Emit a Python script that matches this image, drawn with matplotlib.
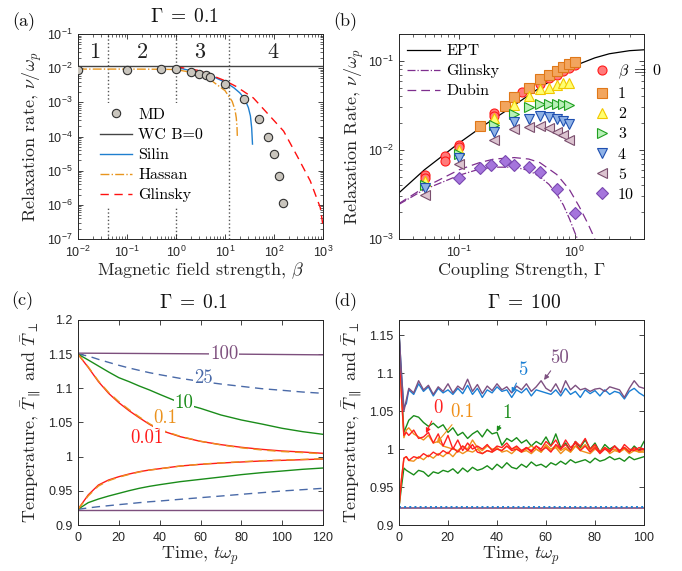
import numpy as np
import matplotlib
matplotlib.use('Agg')
import matplotlib.pyplot as plt
from matplotlib.ticker import LogLocator, NullFormatter

plt.rcParams['font.family'] = ['Liberation Sans', 'DejaVu Sans']
plt.rcParams['mathtext.fontset'] = 'cm'
plt.rcParams['axes.formatter.use_mathtext'] = True

SERIF = 'cmr10'
GRAY = '#262626'

# ---------------- (a) relaxation rate vs beta, Gamma = 0.1
md_beta = [0.01, 0.1, 0.5, 1, 2, 3, 4, 5, 10, 25, 50, 75, 100, 125, 150]
md_nu = [8.9e-3, 8.6e-3, 9.2e-3, 9.2e-3, 7.8e-3, 6.6e-3, 6.3e-3, 5.7e-3,
         3.5e-3, 1.23e-3, 3.2e-4, 1.0e-4, 3.1e-5, 6.8e-6, 1.17e-6]
wc_beta = [1e-2, 1e3]
wc_nu = [1.12e-2, 1.12e-2]
silin_beta = [1, 2, 5, 10, 15, 20, 25, 30, 33, 35, 36.4]
silin_nu = [1.05e-2, 8.5e-3, 6.2e-3, 3.9e-3, 2.7e-3, 1.9e-3, 1.3e-3, 7e-4, 4e-4, 1.8e-4, 6e-5]
hassan_beta = [0.01, 0.1, 0.5, 1, 2, 5, 10, 14, 16, 17, 17.6, 17.9]
hassan_nu = [9.4e-3, 9.4e-3, 9.3e-3, 9.1e-3, 7.6e-3, 4.6e-3, 2.2e-3, 1.07e-3, 6e-4, 3.5e-4, 1.8e-4, 9e-5]
glinsky_beta = [1, 3, 10, 17, 38, 157, 296, 550, 880, 1000]
glinsky_nu = [1.1e-2, 8.5e-3, 4.3e-3, 2.9e-3, 1.34e-3, 1.44e-4, 2.7e-5, 5e-6, 8.3e-7, 2.4e-7]
region_bounds = [0.04, 1, 12]
region_names = ['1', '2', '3', '4']
region_beta = [0.022, 0.21, 3.1, 94]

# ---------------- (b) relaxation rate vs Gamma
ept_g = [0.03, 0.05, 0.1, 0.16, 0.26, 0.5, 1.0, 1.5, 2.0, 3.0, 4.0]
ept_nu = [3.3e-3, 6.0e-3, 1.2e-2, 1.85e-2, 2.8e-2, 5.0e-2, 8.8e-2, 1.08e-1, 1.2e-1, 1.3e-1, 1.33e-1]
gl_g = [0.03, 0.05, 0.1, 0.15, 0.2, 0.3, 0.4, 0.5, 0.6, 0.7, 0.8, 0.9, 1.0, 1.06]
gl_nu = [2.45e-3, 3.6e-3, 5.2e-3, 6.1e-3, 6.4e-3, 6.4e-3, 5.9e-3, 5.0e-3, 4.1e-3, 3.2e-3, 2.4e-3, 1.7e-3, 1.2e-3, 1.0e-3]
du_g = [0.03, 0.05, 0.1, 0.15, 0.2, 0.3, 0.4, 0.5, 0.7, 0.9, 1.1, 1.3, 1.5]
du_nu = [2.5e-3, 3.8e-3, 6.0e-3, 7.2e-3, 7.9e-3, 8.2e-3, 7.9e-3, 7.2e-3, 5.3e-3, 3.6e-3, 2.3e-3, 1.5e-3, 1.0e-3]

g_b0 = [0.05, 0.05, 0.075, 0.075, 0.1, 0.1, 0.2, 0.2, 0.35, 0.5, 0.6, 0.7, 0.8, 0.9, 1.0]
nu_b0 = [5.2e-3, 4.8e-3, 8.6e-3, 7.6e-3, 1.15e-2, 1.07e-2, 2.6e-2, 2.4e-2, 4.5e-2, 5.5e-2, 6.4e-2, 7.0e-2, 7.6e-2, 8.4e-2, 9.0e-2]
g_b1 = [0.15, 0.25, 0.3, 0.4, 0.5, 0.6, 0.7, 0.8, 0.9, 1.0]
nu_b1 = [1.85e-2, 3.1e-2, 3.9e-2, 4.9e-2, 6.2e-2, 6.9e-2, 7.6e-2, 8.6e-2, 9.3e-2, 9.6e-2]
g_b = [0.05, 0.1, 0.2, 0.3, 0.4, 0.5, 0.6, 0.7, 0.8, 0.9]
nu_b2 = [4.5e-3, 1.0e-2, 2.3e-2, 3.2e-2, 4.0e-2, 4.8e-2, 5.0e-2, 5.3e-2, 5.6e-2, 5.7e-2]
nu_b3 = [4.0e-3, 9.0e-3, 1.9e-2, 2.5e-2, 3.0e-2, 3.3e-2, 3.3e-2, 3.3e-2, 3.25e-2, 3.2e-2]
nu_b4 = [3.7e-3, 8.2e-3, 1.6e-2, 2.05e-2, 2.25e-2, 2.4e-2, 2.35e-2, 2.25e-2, 2.1e-2, 1.95e-2]
nu_b5 = [3.1e-3, 6.9e-3, 1.3e-2, 1.7e-2, 1.8e-2, 1.85e-2, 1.75e-2, 1.6e-2, 1.48e-2, 1.3e-2]
g_b10 = [0.1, 0.15, 0.19, 0.25, 0.3, 0.4, 0.5, 0.7, 1.0]
nu_b10 = [4.8e-3, 6.2e-3, 6.7e-3, 7.5e-3, 6.7e-3, 6.4e-3, 5.7e-3, 3.6e-3, 1.95e-3]

# ---------------- (c) temperatures, Gamma = 0.1
t_c = [0, 5, 10, 15, 20, 25, 30, 35, 40, 50, 60, 70, 80, 90, 100, 110, 120]
c001_up = [1.150, 1.1307, 1.1098, 1.0927, 1.079, 1.0673, 1.057, 1.0473, 1.039, 1.0293,
           1.0224, 1.0176, 1.0137, 1.0107, 1.0083, 1.0068, 1.0049]
c001_lo = [0.923, 0.944, 0.9585, 0.9659, 0.9707, 0.9746, 0.978, 0.9805, 0.9824, 0.9863,
           0.9888, 0.9907, 0.9922, 0.9937, 0.9946, 0.9956, 0.9966]
c01_up = [1.150, 1.1315, 1.1108, 1.0940, 1.0805, 1.0688, 1.0582, 1.0482, 1.0398, 1.0298,
          1.0226, 1.0172, 1.0130, 1.0098, 1.0075, 1.0060, 1.0042]
c01_lo = [0.923, 0.9425, 0.957, 0.9648, 0.970, 0.9740, 0.9776, 0.9803, 0.9822, 0.9862,
          0.9890, 0.9910, 0.9926, 0.9941, 0.9950, 0.9960, 0.9970]
c10_up = [1.150, 1.1415, 1.1327, 1.1239, 1.1156, 1.1098, 1.1034, 1.0976, 1.0912, 1.0789,
          1.0707, 1.061, 1.0537, 1.0478, 1.0415, 1.0366, 1.0327]
c10_lo = [0.923, 0.9327, 0.938, 0.9424, 0.9463, 0.9502, 0.9537, 0.9566, 0.959, 0.9634,
          0.9668, 0.9702, 0.9737, 0.9766, 0.979, 0.9815, 0.9834]
c25_up = [1.150, 1.1473, 1.1424, 1.138, 1.1337, 1.1298, 1.1263, 1.1229, 1.120, 1.1146,
          1.1102, 1.1063, 1.1029, 1.0995, 1.0971, 1.0946, 1.0927]
c25_lo = [0.923, 0.925, 0.9268, 0.9283, 0.9298, 0.9312, 0.9327, 0.934, 0.9351, 0.9376,
          0.940, 0.9424, 0.9449, 0.9473, 0.9498, 0.9517, 0.9537]
t_c100 = [0, 60, 120]
c100_up = [1.1515, 1.1505, 1.149]
c100_lo = [0.9225, 0.9225, 0.9225]

# ---------------- (d) temperatures, Gamma = 100
t_d = [0, 1, 2, 3, 4, 6, 8, 10, 12, 14, 16, 18, 20, 22, 24, 26, 28, 30, 32, 34, 36, 38,
       40, 42, 44, 46, 48, 50, 52, 54, 56, 58, 60, 62, 64, 66, 68, 70, 72, 74, 76, 78,
       80, 82, 84, 86, 88, 90, 92, 94, 96, 98, 100]
d50_up = [1.155, 1.10, 1.05, 1.065, 1.080, 1.074, 1.090, 1.078, 1.084, 1.072, 1.082, 1.076,
          1.086, 1.074, 1.083, 1.078, 1.092, 1.076, 1.085, 1.073, 1.083, 1.077, 1.086, 1.078,
          1.082, 1.074, 1.083, 1.078, 1.086, 1.076, 1.082, 1.090, 1.080, 1.076, 1.086, 1.074,
          1.090, 1.078, 1.084, 1.078, 1.080, 1.076, 1.079, 1.080, 1.076, 1.082, 1.080, 1.078,
          1.068, 1.080, 1.090, 1.082, 1.080]
d5_up = [1.155, 1.10, 1.055, 1.060, 1.078, 1.072, 1.086, 1.076, 1.082, 1.070, 1.080, 1.074,
         1.078, 1.072, 1.080, 1.073, 1.084, 1.072, 1.080, 1.068, 1.078, 1.074, 1.082, 1.076,
         1.078, 1.068, 1.078, 1.074, 1.080, 1.070, 1.078, 1.076, 1.074, 1.072, 1.078, 1.070,
         1.080, 1.072, 1.076, 1.068, 1.078, 1.073, 1.077, 1.070, 1.078, 1.072, 1.076, 1.074,
         1.066, 1.076, 1.080, 1.074, 1.070]
d1_up = [1.155, 1.08, 1.022, 1.030, 1.038, 1.044, 1.042, 1.035, 1.030, 1.034, 1.028, 1.032,
         1.022, 1.028, 1.018, 1.022, 1.014, 1.020, 1.024, 1.016, 1.026, 1.020, 1.022, 1.005,
         1.014, 1.010, 1.015, 1.008, 1.012, 1.004, 1.010, 1.006, 1.016, 1.004, 1.020, 1.002,
         1.008, 0.998, 1.010, 1.002, 1.012, 1.000, 1.008, 0.996, 1.006, 1.000, 1.004, 0.998,
         1.002, 0.996, 1.004, 0.998, 1.010]
d1_lo = [0.923, 0.95, 0.975, 0.972, 0.970, 0.966, 0.972, 0.970, 0.964, 0.970, 0.968, 0.972,
         0.970, 0.974, 0.968, 0.975, 0.970, 0.976, 0.972, 0.974, 0.978, 0.973, 0.980, 0.975,
         0.982, 0.976, 0.974, 0.980, 0.976, 0.983, 0.978, 0.980, 0.976, 0.982, 0.979, 0.984,
         0.980, 0.986, 0.982, 0.984, 0.986, 0.982, 0.988, 0.984, 0.986, 0.990, 0.986, 0.988,
         0.984, 0.990, 0.986, 0.988, 0.990]
d0_up = [1.155, 1.07, 1.018, 1.022, 1.018, 1.025, 1.014, 1.016, 1.022, 1.008, 1.020, 1.004,
         1.018, 1.000, 1.012, 0.998, 1.008, 1.000, 1.004, 1.000, 1.006, 0.998, 1.004, 1.002,
         1.008, 1.000, 1.004, 0.998, 1.002, 0.996, 1.004, 1.000, 1.010, 1.004, 1.012, 1.000,
         1.006, 0.998, 1.010, 1.004, 1.014, 1.000, 1.006, 0.996, 1.002, 0.998, 1.004, 0.996,
         1.006, 1.000, 0.998, 1.002, 1.000]
d0_lo = [0.923, 0.96, 0.988, 0.990, 0.985, 0.990, 0.988, 0.994, 0.990, 0.996, 0.992, 0.998,
         0.994, 1.002, 0.996, 1.004, 0.998, 1.006, 0.996, 0.994, 0.998, 0.996, 1.000, 0.998,
         1.004, 0.998, 1.000, 0.996, 1.002, 0.998, 1.004, 0.998, 1.002, 0.996, 1.006, 1.000,
         1.012, 1.002, 1.008, 0.998, 1.004, 0.996, 1.002, 0.994, 1.000, 0.996, 1.004, 0.998,
         1.002, 0.996, 1.002, 0.998, 1.000]
d01_up = [1.155, 1.07, 1.015, 1.025, 1.028, 1.020, 1.016, 1.012, 1.018, 1.008, 1.010, 1.004,
          1.002, 1.000, 0.998, 1.004, 1.000, 1.012, 1.002, 0.998, 1.004, 1.000, 1.000, 0.998,
          1.004, 1.000, 1.002, 0.998, 1.000, 1.004, 1.000, 0.996, 1.006, 1.000, 1.004, 0.998,
          1.002, 0.996, 1.004, 1.000, 1.006, 0.998, 1.004, 0.996, 1.002, 0.998, 1.000, 0.996,
          1.002, 0.998, 1.000, 0.996, 0.998]
d01_lo = [0.923, 0.96, 0.988, 0.990, 0.985, 0.984, 0.990, 0.986, 0.992, 0.988, 0.994, 0.990,
          0.996, 0.990, 0.998, 0.994, 0.998, 0.996, 1.000, 0.994, 0.998, 0.996, 1.002, 0.996,
          0.998, 0.994, 1.000, 0.996, 0.998, 0.994, 1.000, 0.996, 1.004, 0.998, 1.002, 0.994,
          1.000, 0.996, 1.004, 0.998, 0.996, 0.994, 1.000, 0.996, 1.002, 0.994, 0.998, 0.996,
          1.000, 0.994, 0.998, 0.996, 0.996]
t_flat = [0, 100]
d5_lo = [0.924, 0.924]
d50_lo = [0.9225, 0.9225]


def style(ax):
    ax.tick_params(which='both', direction='in', top=True, right=True,
                   colors=GRAY, labelsize=9)
    ax.tick_params(axis='x', which='major', pad=4)
    ax.tick_params(axis='y', which='major', pad=4)
    ax.tick_params(which='major', length=3.5, width=0.6)
    ax.tick_params(which='minor', length=2, width=0.5)
    for s in ax.spines.values():
        s.set_color(GRAY)
        s.set_linewidth(0.7)


def logticks(ax):
    for axis in (ax.xaxis, ax.yaxis):
        axis.set_major_locator(LogLocator(base=10, numticks=12))
        axis.set_minor_locator(LogLocator(base=10, subs=np.arange(2, 10), numticks=12))
        axis.set_minor_formatter(NullFormatter())


def labels(ax, xl, yl, ylx, xly=-0.105):
    ax.set_xlabel(xl, family=SERIF, size=13, color=GRAY, va='top')
    ax.set_ylabel(yl, family=SERIF, size=13, color=GRAY)
    ax.xaxis.set_label_coords(0.5, xly)
    ax.yaxis.set_label_coords(ylx, 0.5)


fig = plt.figure(figsize=(6.82, 5.71), dpi=100)
W, H = 682, 571
ax_a = fig.add_axes([78 / W, 1 - 239 / H, 245 / W, 205 / H])
ax_b = fig.add_axes([399 / W, 1 - 239 / H, 245 / W, 205 / H])
ax_c = fig.add_axes([78 / W, 1 - 525 / H, 245 / W, 205 / H])
ax_d = fig.add_axes([399 / W, 1 - 525 / H, 245 / W, 205 / H])

# ----- (a)
ax = ax_a
ax.set_xscale('log')
ax.set_yscale('log')
for b in region_bounds:
    ax.axvline(b, ls=':', color='#555555', lw=1.0, zorder=1)
ax.plot(md_beta, md_nu, 'o', ms=6, mfc='#c9c5bd', mec='#303030', mew=0.8, label='MD', zorder=5)
ax.plot(wc_beta, wc_nu, '-', color='#444444', lw=1.0, label='WC B=0', zorder=3)
ax.plot(silin_beta, silin_nu, '-', color='#1f7fcf', lw=1.0, label='Silin', zorder=3)
ax.plot(hassan_beta, hassan_nu, '-.', color='#e8951e', lw=1.0, label='Hassan', zorder=3)
ax.plot(glinsky_beta, glinsky_nu, '--', color='#ff1010', lw=1.0, dashes=(6, 4), label='Glinsky', zorder=3)
for name, b in zip(region_names, region_beta):
    ax.text(b, 0.91, name, transform=ax.get_xaxis_transform(), ha='center', va='center',
            family=SERIF, size=16, color='#222222')
ax.set_xlim(1e-2, 1e3)
ax.set_ylim(1e-7, 1e-1)
logticks(ax)
leg = ax.legend(loc='upper left', bbox_to_anchor=(0.07, 0.663), borderaxespad=0,
                prop=dict(family=SERIF, size=11.5), frameon=True, framealpha=1,
                edgecolor='none', fancybox=False, handlelength=2.0, labelspacing=0.37,
                borderpad=0.3, handletextpad=0.4)
leg.set_zorder(10)
labels(ax, r'Magnetic field strength, $\beta$', r'Relaxation rate, $\nu/\omega_p$', -0.14)
style(ax)

# ----- (b)
ax = ax_b
ax.set_xscale('log')
ax.set_yscale('log')
l_ept, = ax.plot(ept_g, ept_nu, '-', color='black', lw=0.9, label='EPT')
l_gl, = ax.plot(gl_g, gl_nu, '-.', color='#7e2f8e', lw=0.9, label='Glinsky')
l_du, = ax.plot(du_g, du_nu, '--', color='#7e2f8e', lw=0.9, dashes=(7, 4), label='Dubin')
mk = dict(ls='none', ms=6.5, mew=0.8)
p0, = ax.plot(g_b0, nu_b0, 'o', mfc='#ff7b7b', mec='#ff1a1a', label=r'$\beta\;=\;0$', **mk)
p1, = ax.plot(g_b1, nu_b1, 's', mfc='#f2a55e', mec='#e07818', label='1', **mk)
p2, = ax.plot(g_b, nu_b2, '^', mfc='#ffff70', mec='#f2c800', label='2', **mk)
p3, = ax.plot(g_b, nu_b3, '>', mfc='#b8f0b8', mec='#20a020', label='3', **mk)
p4, = ax.plot(g_b, nu_b4, 'v', mfc='#8fb2e6', mec='#1f4fb0', label='4', **mk)
p5, = ax.plot(g_b, nu_b5, '<', mfc='#dcc4d0', mec='#7a4f6e', label='5', **mk)
p10, = ax.plot(g_b10, nu_b10, 'D', mfc='#a575dc', mec='#7a48b0', ms=6, mew=0.8, ls='none', label='10')
ax.set_xlim(0.03, 4)
ax.set_ylim(1e-3, 0.2)
logticks(ax)
leg1 = ax.legend(handles=[l_ept, l_gl, l_du], loc='upper left', bbox_to_anchor=(0.012, 0.975),
                 borderaxespad=0, prop=dict(family=SERIF, size=11.5), frameon=False,
                 handlelength=2.06, labelspacing=0.37, borderpad=0.3, handletextpad=0.42)
ax.add_artist(leg1)
leg2 = ax.legend(handles=[p0, p1, p2, p3, p4, p5, p10], loc='upper left',
                 bbox_to_anchor=(0.782, 0.883), borderaxespad=0,
                 prop=dict(family=SERIF, size=11.5), frameon=False,
                 handlelength=0.8, labelspacing=0.37, borderpad=0.3, handletextpad=0.62)
labels(ax, r'Coupling Strength, $\Gamma$', r'Relaxation Rate, $\nu/\omega_p$', -0.135)
style(ax)

# ----- (c)
ax = ax_c
ax.plot(t_c100, c100_up, '-', color='#7d4f7d', lw=1.0)
ax.plot(t_c100, c100_lo, '-', color='#7d4f7d', lw=1.0)
ax.plot(t_c, c25_up, '--', color='#4a6aa8', lw=1.0, dashes=(6, 4))
ax.plot(t_c, c25_lo, '--', color='#4a6aa8', lw=1.0, dashes=(6, 4))
ax.plot(t_c, c10_up, '-', color='#1a8c1a', lw=1.0)
ax.plot(t_c, c10_lo, '-', color='#1a8c1a', lw=1.0)
ax.plot(t_c, c001_up, '-', color='#ff1a1a', lw=1.0)
ax.plot(t_c, c001_lo, '-', color='#ff1a1a', lw=1.0)
ax.plot(t_c, c01_up, '--', color='#eb921e', lw=1.0, dashes=(6, 4))
ax.plot(t_c, c01_lo, '--', color='#eb921e', lw=1.0, dashes=(6, 4))
box = dict(facecolor='white', edgecolor='none', pad=0.5)
tl = dict(ha='center', va='center', family=SERIF, size=13.5, bbox=box, zorder=6)
ax.text(71.5, 1.150, '100', color='#7d4f7d', **tl)
ax.text(61.4, 1.1146, '25', color='#4a6aa8', **tl)
ax.text(52, 1.078, '10', color='#1a8c1a', **tl)
ax.text(42.9, 1.056, '0.1', color='#eb921e', **tl)
ax.text(33.9, 1.0268, '0.01', color='#ff1a1a', **tl)
ax.set_xlim(0, 120)
ax.set_ylim(0.9, 1.2)
ax.set_xticks([0, 20, 40, 60, 80, 100, 120])
ax.set_yticks([0.9, 0.95, 1, 1.05, 1.1, 1.15, 1.2],
              ['0.9', '0.95', '1', '1.05', '1.1', '1.15', '1.2'])
labels(ax, r'Time, $t\omega_p$', r'Temperature, $\bar{T}_\parallel$ and $\bar{T}_\perp$', -0.14, -0.095)
style(ax)

# ----- (d)
ax = ax_d
ax.plot(t_flat, d50_lo, '-', color='#7d5080', lw=1.2)
ax.plot(t_flat, d5_lo, ':', color='#1a7fd4', lw=1.4)
ax.plot(t_d, d1_lo, '-', color='#1a8c1a', lw=1.0)
ax.plot(t_d, d1_up, '-', color='#1a8c1a', lw=1.0)
ax.plot(t_d, d01_lo, '-', color='#f0901a', lw=1.0)
ax.plot(t_d, d01_up, '-', color='#f0901a', lw=1.0)
ax.plot(t_d, d0_lo, '-', color='#ff2020', lw=1.0)
ax.plot(t_d, d0_up, '-', color='#ff2020', lw=1.0)
ax.plot(t_d, d5_up, '-', color='#1a7fd4', lw=1.0)
ax.plot(t_d, d50_up, '-', color='#7d5080', lw=1.0)
ann = dict(ha='center', va='center', family=SERIF, size=13.5)
for txt, xy, xyt, c in [('50', (59.2, 1.091), (65.7, 1.120), '#7d5080'),
                        ('5', (46, 1.074), (50.5, 1.104), '#1a7fd4'),
                        ('0', (11, 1.021), (15.9, 1.054), '#ff2020'),
                        ('0.1', (15.4, 1.008), (26, 1.049), '#f0901a'),
                        ('1', (39.9, 1.023), (44, 1.048), '#1a8c1a')]:
    ax.annotate(txt, xy=xy, xytext=xyt, color=c, **ann,
                arrowprops=dict(arrowstyle='-|>', color=c, lw=0.8, mutation_scale=7,
                                shrinkA=1, shrinkB=0))
ax.set_xlim(0, 100)
ax.set_ylim(0.9, 1.17)
ax.set_xticks([0, 20, 40, 60, 80, 100])
ax.set_yticks([0.9, 0.95, 1, 1.05, 1.1, 1.15],
              ['0.9', '0.95', '1', '1.05', '1.1', '1.15'])
labels(ax, r'Time, $t\omega_p$', r'Temperature, $\bar{T}_\parallel$ and $\bar{T}_\perp$', -0.14, -0.095)
style(ax)

# titles and panel letters
ttl = dict(ha='center', va='center', size=14, color='#111111')
fig.text(184 / W, 1 - 16.7 / H, r'$\Gamma\;=\;0.1$', **ttl)
fig.text(193 / W, 1 - 303 / H, r'$\Gamma\;=\;0.1$', **ttl)
fig.text(523.7 / W, 1 - 302.7 / H, r'$\Gamma\;=\;100$', **ttl)
pl = dict(ha='center', va='center', family=SERIF, size=13, color='#111111')
fig.text(23.3 / W, 1 - 21.7 / H, '(a)', **pl)
fig.text(345 / W, 1 - 21.7 / H, '(b)', **pl)
fig.text(22.7 / W, 1 - 300.7 / H, '(c)', **pl)
fig.text(345 / W, 1 - 301.7 / H, '(d)', **pl)

fig.savefig('out.png', dpi=100)
